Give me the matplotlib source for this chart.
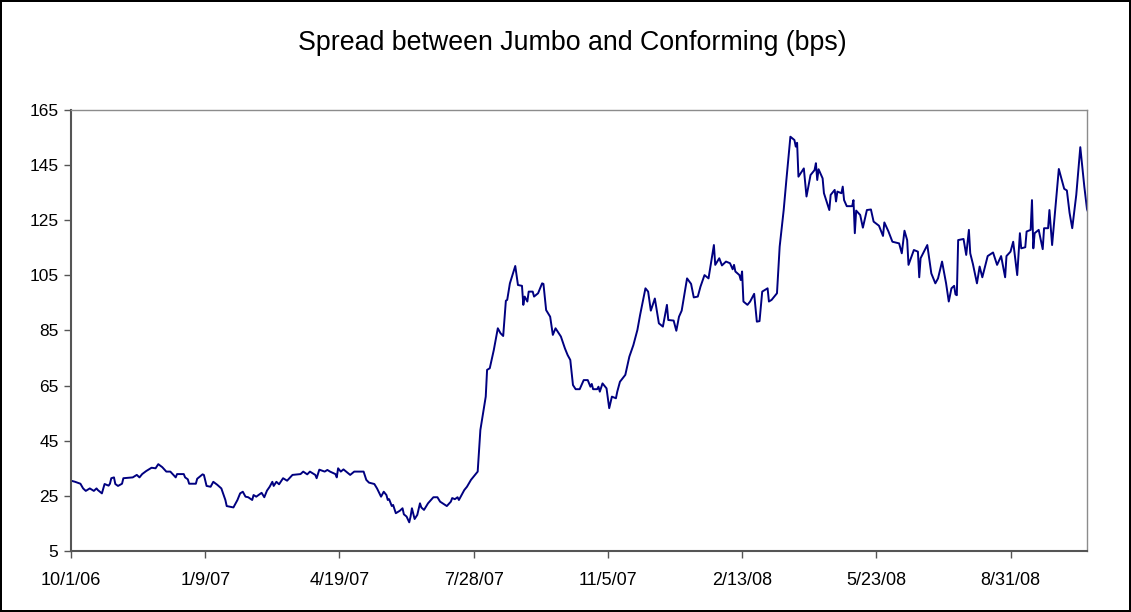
import datetime as dt
import matplotlib
matplotlib.use("Agg")
import matplotlib.pyplot as plt

plt.rcParams['font.family'] = ['Liberation Sans', 'DejaVu Sans']

title = "Spread between Jumbo and Conforming (bps)"
start_date = dt.date(2006, 10, 1)

# days since 10/1/06 and spread in bps
days = [0, 3, 7, 9, 11, 14, 17, 19, 20, 23, 25, 28, 29, 30, 32, 33, 35, 38, 39,
        46, 49, 51, 53, 56, 60, 63, 65, 68, 71, 74, 78, 79, 84, 85, 87, 88, 93,
        94, 98, 99, 101, 104, 106, 109, 112, 115, 116, 121, 124, 126, 128, 130,
        132, 135, 136, 138, 142, 144, 146, 148, 150, 151, 153, 155, 158, 161,
        165, 171, 173, 176, 178, 182, 183, 185, 189, 191, 193, 197, 198, 199,
        201, 203, 205, 208, 211, 218, 220, 222, 226, 228, 231, 233, 235, 236,
        237, 239, 240, 242, 245, 247, 248, 250, 252, 253, 254, 256, 258, 260,
        261, 263, 266, 270, 273, 275, 280, 283, 284, 286, 288, 289, 293, 295,
        298, 300, 303, 304, 305, 309, 310, 312, 315, 318, 320, 322, 324, 325,
        327, 331, 333, 336, 337, 338, 340, 341, 344, 345, 348, 351, 352, 354,
        357, 359, 361, 365, 368, 370, 372, 374, 376, 379, 382, 385, 387, 388,
        389, 392, 393, 394, 396, 399, 401, 403, 406, 407, 409, 413, 416, 419,
        422, 424, 428, 430, 432, 435, 438, 441, 444, 445, 449, 451, 453, 455,
        459, 462, 464, 467, 469, 472, 475, 479, 480, 483, 485, 488, 491, 493,
        494, 495, 498, 499, 500, 501, 504, 506, 509, 511, 513, 515, 519, 520,
        522, 526, 528, 531, 533, 536, 539, 540, 541, 542, 546, 548, 551, 554,
        555, 556, 557, 560, 561, 565, 566, 569, 570, 571, 574, 575, 576, 578,
        582, 583, 584, 585, 588, 590, 593, 596, 598, 602, 605, 606, 609, 611,
        612, 617, 619, 621, 623, 624, 628, 631, 632, 633, 638, 641, 644, 646,
        649, 652, 654, 656, 658, 659, 660, 661, 665, 667, 669, 670, 672, 675,
        677, 679, 683, 687, 690, 693, 696, 697, 700, 702, 705, 707, 708, 711,
        712, 715, 716, 717, 718, 721, 724, 725, 728, 729, 731, 734, 736, 740,
        742, 744, 746, 749, 752, 755, 757, 758]
spread = [30.5, 30.1, 29.4, 27.7, 26.8, 27.7, 26.8, 27.7, 27.1, 25.9, 29.3, 28.7,
          29.4, 31.4, 31.7, 29.3, 28.6, 29.4, 31.4, 31.7, 32.6, 31.7, 32.9, 34.0,
          35.2, 35.0, 36.5, 35.4, 33.8, 33.8, 31.7, 32.9, 32.9, 31.7, 31.0, 29.4,
          29.4, 31.2, 32.8, 32.6, 28.6, 28.3, 30.1, 29.0, 27.7, 23.5, 21.3, 20.8,
          23.5, 25.9, 26.5, 24.7, 24.5, 23.5, 25.3, 24.7, 26.1, 24.5, 26.9, 28.3,
          30.1, 28.6, 30.1, 29.2, 31.4, 30.5, 32.6, 32.9, 33.8, 32.8, 33.8, 32.6,
          31.4, 34.5, 33.8, 34.4, 33.8, 32.9, 31.7, 35.0, 33.8, 34.6, 33.8, 32.6,
          33.8, 33.8, 30.8, 29.8, 29.3, 27.7, 24.7, 26.5, 25.3, 23.5, 23.8, 21.3,
          21.7, 18.7, 19.6, 20.5, 18.3, 17.5, 15.4, 17.5, 20.5, 16.6, 18.1, 22.3,
          20.8, 19.9, 22.3, 24.5, 24.5, 22.9, 21.3, 22.9, 24.2, 23.8, 24.5, 23.5,
          27.1, 28.3, 30.8, 32.0, 33.8, 41.6, 48.9, 61.0, 70.7, 71.3, 77.9, 85.8,
          84.0, 83.0, 95.8, 96.1, 102.1, 108.4, 101.5, 101.2, 94.3, 97.3, 95.5,
          99.1, 99.1, 97.3, 98.5, 102.1, 101.9, 92.4, 90.0, 83.4, 85.8, 82.8,
          78.5, 76.1, 74.3, 65.2, 63.7, 63.7, 67.0, 67.0, 64.6, 65.6, 63.7, 63.7,
          64.6, 62.8, 65.8, 64.0, 56.8, 61.0, 60.4, 62.8, 66.4, 68.9, 75.5, 79.7,
          85.2, 90.6, 100.3, 99.1, 92.2, 96.6, 87.6, 86.4, 94.3, 88.8, 88.6, 84.9,
          90.0, 92.2, 103.9, 101.9, 97.0, 97.3, 100.9, 105.1, 103.9, 116.0, 108.8,
          111.2, 108.6, 110.0, 109.4, 107.2, 108.8, 106.4, 105.1, 103.3, 106.4,
          95.5, 94.3, 95.5, 98.3, 88.2, 88.4, 99.1, 100.3, 95.5, 96.1, 98.5, 115.4,
          128.7, 139.6, 155.3, 154.1, 151.7, 153.1, 140.8, 143.8, 133.6, 141.4,
          143.2, 145.7, 139.6, 143.5, 140.2, 134.8, 128.7, 134.2, 136.0, 131.8,
          135.4, 134.8, 137.2, 132.3, 130.1, 130.1, 132.3, 120.3, 128.5, 126.9,
          122.3, 128.7, 128.9, 124.5, 123.0, 119.3, 124.2, 121.0, 118.4, 117.2,
          116.6, 113.0, 121.2, 117.8, 108.8, 114.2, 113.6, 104.3, 111.2, 116.0,
          105.7, 102.1, 103.9, 110.0, 102.1, 95.5, 100.3, 101.2, 98.1, 97.8, 117.8,
          118.2, 112.4, 121.5, 113.0, 109.1, 102.1, 108.2, 104.3, 112.0, 113.3,
          108.8, 112.0, 104.3, 112.0, 113.6, 117.2, 105.1, 120.3, 114.8, 115.2,
          120.9, 121.5, 132.3, 114.8, 120.3, 121.5, 114.5, 122.1, 122.1, 128.7,
          116.0, 132.3, 143.6, 136.4, 135.8, 127.7, 122.1, 134.2, 151.5, 137.2,
          129.0, 127.7]

dates = [start_date + dt.timedelta(days=d) for d in days]
tick_dates = [start_date + dt.timedelta(days=100 * k) for k in range(8)]
y_ticks = list(range(5, 166, 20))

fig = plt.figure(figsize=(11.31, 6.12), dpi=100, linewidth=1.5, edgecolor='black')
ax = fig.add_axes([0.0628, 0.0997, 0.8983, 0.7206])

ax.plot(dates, spread, color='#000080', linewidth=1.4)

ax.set_xlim(start_date, start_date + dt.timedelta(days=757.6))
ax.set_ylim(5, 165)
ax.set_yticks(y_ticks)
ax.set_xticks(tick_dates)
ax.set_xticklabels([f"{d.month}/{d.day}/{d.year % 100:02d}" for d in tick_dates])

for side in ['top', 'right']:
    ax.spines[side].set_color('#8c8c8c')
    ax.spines[side].set_linewidth(1)
for side in ['left', 'bottom']:
    ax.spines[side].set_color('#555555')
    ax.spines[side].set_linewidth(1.5)

ax.tick_params(axis='both', direction='out', length=5, width=1, color='#555555',
               labelcolor='black')
ax.tick_params(axis='x', pad=10, labelsize=13)
ax.tick_params(axis='y', pad=4, labelsize=12.5)

fig.text(0.506, 0.93, title, ha='center', va='center', fontsize=19.3)

fig.savefig('out.png', dpi=100)
